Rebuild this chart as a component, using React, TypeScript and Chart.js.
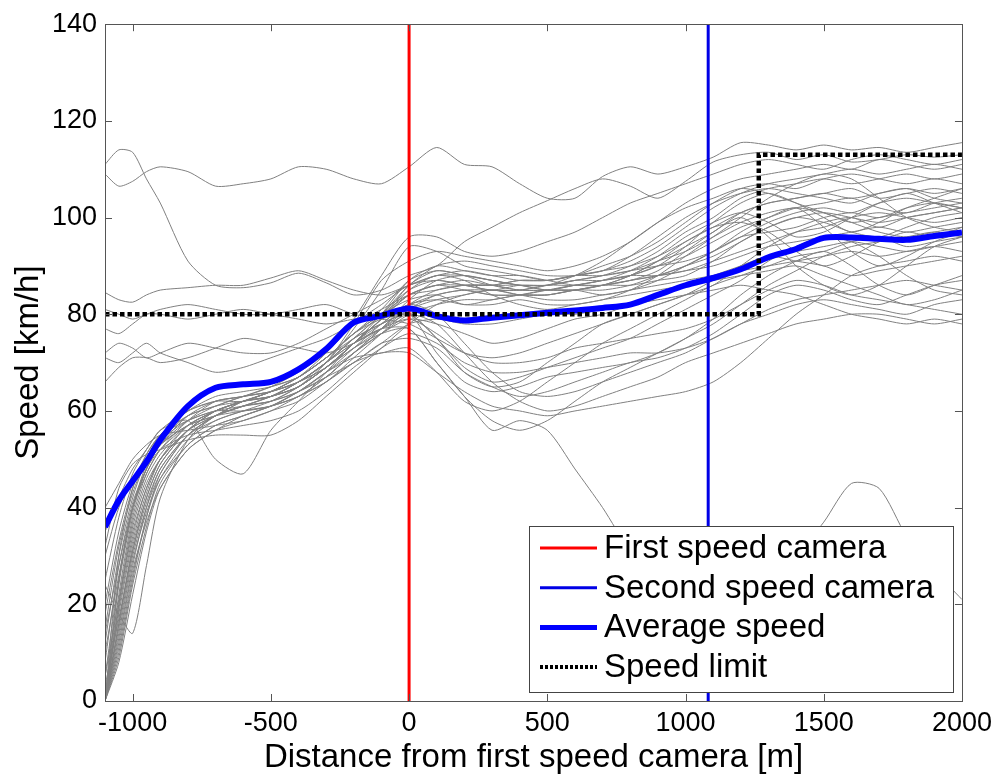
import React, { useEffect, useRef } from "react";
import { Chart, registerables } from "chart.js";

Chart.register(...registerables);

const FONT = '"Liberation Sans", Arial, Helvetica, sans-serif';

// Distance grid [m] shared by all speed profiles
const DIST = [-1100, -1050, -1000, -950, -900, -800, -700, -600, -500, -400, -300, -200, -100, 0, 100, 200, 300, 400, 500, 600, 700, 800, 900, 1000, 1100, 1200, 1300, 1400, 1500, 1600, 1700, 1800, 1900, 2000];

const AVERAGE_SPEED = [36, 41.5, 45.5, 49.5, 54, 61, 64.8, 65.5, 66, 68.6, 72.8, 78.3, 79.7, 81.2, 79.6, 78.7, 79.3, 79.8, 80.3, 80.8, 81.3, 82, 84, 86, 87.5, 89.3, 91.8, 93.5, 95.8, 95.9, 95.6, 95.4, 96.2, 96.9];

const SPEED_LIMIT_X = [-1100, 1265, 1265, 2000];
const SPEED_LIMIT_Y = [80, 80, 113, 113];

const FIRST_CAMERA_X = 0;
const SECOND_CAMERA_X = 1082;

const X_TICKS = [-1000, -500, 0, 500, 1000, 1500, 2000];
const Y_TICKS = [0, 20, 40, 60, 80, 100, 120, 140];

const LEGEND_LABELS = ["First speed camera", "Second speed camera", "Average speed", "Speed limit"];

// Individual vehicle speed profiles [km/h] on DIST
const V01 = [109, 106.5, 107.5, 109.5, 110.5, 109.5, 106.5, 107, 108, 110.5, 110, 108, 107, 110.5, 114.5, 111, 110.5, 107, 104, 104, 108.5, 110.5, 109, 110.5, 112.5, 115.5, 115, 114, 115, 114, 114.5, 113.5, 114.5, 115.5];
const V02 = [111, 114, 113.5, 108, 103, 91, 86, 85.5, 86.5, 88.5, 86.5, 84, 85, 88, 90, 95, 98, 101, 103.5, 106, 108, 106.5, 104, 107.5, 111.5, 113, 113.5, 112, 113, 111.5, 112, 113, 112.5, 113];
const V03 = [0, 22, 38, 47, 52, 58, 62, 63, 65, 68, 72, 78, 82, 86, 87, 86, 85, 86, 86, 87, 88, 90, 93, 97, 100, 104, 106, 107, 108, 107, 108, 109, 108, 109];
const V04 = [0, 18, 33, 43, 50, 57, 60, 62, 64, 67, 71, 76, 80, 83, 84, 82, 83, 84, 85, 85, 86, 88, 91, 94, 97, 101, 103, 104, 105, 106, 104, 105, 106, 105];
const V05 = [5, 25, 40, 49, 54, 59, 61, 63, 64, 66, 70, 75, 78, 80, 75, 68, 65, 66, 70, 74, 78, 80, 82, 84, 86, 90, 94, 97, 99, 100, 98, 100, 101, 102];
const V06 = [0, 15, 30, 40, 47, 55, 59, 61, 63, 66, 70, 77, 85, 94, 93, 90, 89, 88, 87, 88, 89, 92, 96, 100, 103, 105, 106, 105, 104, 103, 105, 106, 104, 103];
const V07 = [12, 30, 42, 50, 55, 60, 62, 62, 64, 66, 69, 74, 79, 84, 86, 87, 86, 86, 85, 86, 87, 88, 90, 92, 95, 98, 100, 102, 103, 104, 102, 101, 103, 104];
const V08 = [20, 35, 45, 51, 55, 58, 60, 60, 61, 64, 68, 71, 72, 73, 68, 62, 60, 62, 66, 70, 74, 77, 80, 83, 86, 88, 90, 92, 93, 95, 96, 94, 95, 96];
const V09 = [0, 20, 36, 45, 50, 56, 59, 62, 63, 65, 69, 73, 77, 81, 83, 84, 85, 84, 84, 85, 86, 87, 88, 89, 90, 92, 94, 95, 96, 97, 98, 97, 98, 99];
const V10 = [24, 18, 14, 28, 42, 54, 59, 61, 62, 64, 67, 72, 76, 79, 78, 76, 74, 75, 77, 79, 80, 82, 84, 86, 88, 90, 92, 91, 90, 88, 89, 90, 91, 92];
const V11 = [35, 42, 48, 52, 56, 58, 50, 47, 56, 62, 68, 74, 78, 82, 80, 74, 68, 64, 63, 64, 66, 68, 70, 72, 75, 78, 80, 82, 83, 82, 81, 80, 82, 83];
const V12 = [84.5, 83, 82.5, 84, 85, 85.5, 86, 86, 87.5, 89, 87, 85, 84, 86, 88, 89, 88, 87, 87, 88, 89, 90, 92, 95, 98, 101, 103, 104, 105, 104, 105, 106, 105, 106];
const V13 = [81, 80, 79, 80, 81, 82, 81, 80, 80, 81, 82, 80, 79, 78, 75, 72, 71, 72, 74, 76, 78, 80, 82, 84, 87, 90, 92, 93, 94, 95, 94, 93, 94, 95];
const V14 = [77, 76, 78, 80, 80, 79, 80, 81, 80, 79, 78, 79, 80, 82, 84, 85, 84, 84, 85, 86, 86, 87, 88, 90, 92, 95, 98, 100, 101, 100, 99, 100, 101, 102];
const V15 = [72, 74, 73, 71, 72, 74, 73, 72, 72, 74, 77, 80, 83, 86, 88, 88, 87, 86, 86, 87, 88, 89, 90, 91, 93, 96, 99, 101, 102, 101, 103, 104, 103, 102];
const V16 = [66, 69, 71, 71, 70, 71, 73, 75, 74, 73, 72, 74, 77, 80, 78, 72, 66, 62, 60, 61, 63, 65, 67, 70, 72, 74, 76, 78, 79, 80, 80, 79, 78, 79];
const V17 = [0, 10, 25, 38, 46, 54, 58, 60, 62, 65, 70, 78, 87, 91, 93, 92, 91, 90, 89, 90, 92, 95, 99, 103, 106, 108, 109, 110, 111, 110, 112, 111, 110, 111];
const V18 = [3, 17, 31, 41, 48, 55, 58, 60, 61, 63, 67, 72, 77, 82, 85, 86, 86, 85, 85, 85, 86, 86, 87, 88, 91, 95, 98, 100, 99, 97, 96, 98, 100, 101];
const V19 = [0, 8, 22, 35, 44, 52, 56, 58, 60, 62, 66, 70, 72, 72, 68, 64, 61, 60, 59, 60, 61, 62, 63, 64, 66, 70, 75, 80, 84, 88, 90, 91, 92, 91];
const V20 = [8, 28, 41, 48, 53, 57, 59, 61, 62, 64, 68, 73, 78, 82, 83, 82, 82, 83, 82, 82, 83, 84, 85, 86, 87, 88, 89, 90, 88, 86, 84, 82, 83, 85];
const V21 = [15, 32, 43, 50, 55, 59, 61, 62, 63, 66, 70, 74, 77, 79, 76, 72, 70, 70, 71, 73, 74, 75, 76, 77, 79, 82, 85, 87, 86, 84, 83, 82, 81, 80];
const V22 = [0, 14, 29, 39, 46, 53, 57, 59, 61, 63, 67, 72, 77, 83, 87, 88, 87, 86, 86, 87, 87, 88, 90, 94, 99, 103, 105, 103, 100, 97, 99, 102, 104, 106];
const V23 = [25, 38, 47, 52, 56, 60, 62, 63, 64, 66, 69, 73, 76, 77, 70, 63, 58, 56, 58, 62, 66, 69, 72, 75, 78, 82, 86, 89, 92, 94, 95, 96, 97, 96];
const V24 = [0, 19, 34, 44, 50, 56, 60, 62, 64, 67, 71, 76, 80, 84, 86, 86, 86, 87, 87, 88, 90, 92, 95, 99, 103, 106, 107, 106, 108, 109, 108, 107, 108, 107];
const V25 = [40, 45, 50, 53, 55, 56, 57, 58, 60, 63, 66, 70, 74, 78, 79, 78, 78, 79, 80, 80, 81, 82, 83, 84, 85, 86, 85, 84, 82, 80, 79, 78, 79, 78];
const V26 = [0, 12, 27, 37, 44, 52, 56, 59, 61, 64, 68, 72, 76, 80, 82, 83, 83, 84, 84, 85, 86, 88, 91, 95, 98, 99, 97, 93, 90, 92, 95, 97, 96, 98];
const V27 = [18, 33, 44, 50, 54, 58, 60, 61, 62, 65, 69, 74, 79, 86, 89, 88, 87, 86, 85, 85, 84, 85, 86, 87, 88, 89, 90, 91, 92, 93, 92, 93, 94, 93];
const V28 = [0, 24, 39, 48, 53, 58, 61, 63, 65, 67, 71, 75, 78, 80, 72, 66, 64, 65, 67, 68, 69, 70, 72, 75, 79, 84, 88, 91, 93, 90, 86, 84, 86, 88];
const V29 = [30, 40, 46, 50, 53, 57, 59, 60, 61, 63, 66, 71, 76, 81, 84, 85, 85, 85, 86, 86, 87, 88, 88, 89, 91, 93, 95, 97, 98, 100, 101, 100, 99, 100];
const V30 = [0, 16, 32, 42, 49, 56, 60, 62, 63, 65, 69, 74, 79, 84, 86, 85, 84, 84, 84, 85, 85, 86, 88, 90, 93, 97, 100, 102, 98, 93, 90, 92, 95, 97];
const V31 = [10, 26, 40, 48, 52, 55, 56, 57, 58, 60, 64, 69, 73, 76, 74, 70, 68, 68, 69, 70, 71, 72, 72, 73, 75, 78, 81, 83, 84, 85, 86, 87, 86, 85];
const V32 = [0, 20, 35, 44, 50, 56, 59, 61, 63, 66, 70, 75, 80, 86, 90, 91, 90, 89, 88, 88, 89, 91, 94, 98, 102, 105, 107, 108, 109, 110, 109, 110, 111, 110];
const V33 = [32, 44, 49, 51, 52, 54, 55, 55, 55, 58, 63, 68, 73, 78, 82, 84, 85, 84, 83, 83, 84, 85, 87, 90, 93, 96, 97, 98, 100, 101, 100, 102, 103, 102];
const V34 = [0, 9, 24, 36, 45, 53, 57, 59, 61, 64, 67, 70, 74, 75, 73, 68, 65, 63, 64, 66, 68, 70, 71, 73, 76, 80, 84, 86, 85, 83, 82, 84, 86, 87];
const V35 = [0, 25, 40, 48, 53, 59, 62, 63, 64, 66, 70, 74, 77, 77, 70, 63, 56, 58, 56, 48, 40, 31, 25, 20, 17, 20, 25, 30, 37, 45, 44, 34, 27, 21];
const V36 = [0, 13, 28, 40, 48, 55, 59, 61, 63, 65, 69, 74, 80, 87, 90, 89, 88, 88, 87, 86, 86, 87, 89, 93, 97, 100, 96, 90, 86, 84, 86, 90, 94, 96];
const V37 = [5, 21, 37, 46, 51, 57, 60, 62, 63, 65, 69, 74, 79, 85, 88, 87, 84, 82, 81, 82, 83, 85, 88, 92, 96, 100, 104, 107, 109, 108, 104, 100, 98, 97];
const V38 = [0, 11, 26, 38, 47, 55, 59, 62, 64, 67, 71, 76, 81, 87, 89, 88, 86, 85, 85, 86, 87, 89, 92, 96, 99, 101, 99, 96, 97, 100, 103, 105, 103, 101];
const V39 = [0, 30, 44, 51, 55, 60, 63, 64, 65, 67, 71, 76, 79, 80, 75, 69, 66, 67, 69, 71, 73, 75, 78, 81, 84, 87, 91, 94, 96, 95, 92, 88, 85, 84];
const V40 = [71, 70, 72, 74, 72, 70, 68, 69, 71, 73, 75, 78, 81, 84, 85, 86, 86, 87, 87, 88, 88, 89, 91, 93, 96, 99, 101, 102, 101, 99, 100, 101, 102, 103];
const V41 = [0, 16, 31, 42, 49, 56, 60, 62, 64, 67, 72, 79, 88, 96, 96, 93, 92, 93, 95, 97, 100, 103, 105, 107, 109, 111, 112, 111, 110, 112, 113, 112, 111, 112];
const V42 = [14, 28, 40, 47, 52, 57, 60, 62, 63, 66, 70, 75, 80, 85, 87, 86, 85, 85, 86, 88, 91, 95, 99, 102, 104, 106, 105, 103, 101, 99, 97, 96, 97, 98];

const VEHICLES = [V01, V02, V03, V04, V05, V06, V07, V08, V09, V10, V11, V12, V13, V14, V15, V16, V17, V18, V19, V20, V21, V22, V23, V24, V25, V26, V27, V28, V29, V30, V31, V32, V33, V34, V35, V36, V37, V38, V39, V40, V41, V42];

const framePlugin = {
  id: "frameTicks",
  afterDatasetsDraw(chart: any) {
    const { ctx, chartArea: ca, scales } = chart;
    ctx.save();
    ctx.strokeStyle = "#555";
    ctx.lineWidth = 1;
    ctx.strokeRect(Math.round(ca.left) + 0.5, Math.round(ca.top) + 0.5, Math.round(ca.right - ca.left), Math.round(ca.bottom - ca.top));
    const len = 7;
    ctx.beginPath();
    X_TICKS.forEach((v) => {
      const x = Math.round(scales.x.getPixelForValue(v)) + 0.5;
      ctx.moveTo(x, ca.bottom);
      ctx.lineTo(x, ca.bottom - len);
      ctx.moveTo(x, ca.top);
      ctx.lineTo(x, ca.top + len);
    });
    Y_TICKS.forEach((v) => {
      const y = Math.round(scales.y.getPixelForValue(v)) + 0.5;
      ctx.moveTo(ca.left, y);
      ctx.lineTo(ca.left + len, y);
      ctx.moveTo(ca.right, y);
      ctx.lineTo(ca.right - len, y);
    });
    ctx.stroke();
    ctx.restore();
  },
  afterDraw(chart: any) {
    const { ctx, chartArea: ca } = chart;
    const w = 424;
    const h = 166;
    const left = Math.round(ca.right - 9 - w);
    const top = Math.round(ca.bottom - 9 - h);
    ctx.save();
    ctx.fillStyle = "#fff";
    ctx.fillRect(left, top, w, h);
    ctx.strokeStyle = "#444";
    ctx.lineWidth = 1;
    ctx.strokeRect(left + 0.5, top + 0.5, w, h);
    LEGEND_LABELS.forEach((label, i) => {
      const ds = chart.data.datasets.find((d: any) => d.label === label);
      const y = top + 22 + i * 39.7;
      ctx.beginPath();
      ctx.strokeStyle = ds.borderColor;
      ctx.lineWidth = label === "Average speed" ? 5 : label === "Speed limit" ? 4 : 3;
      ctx.setLineDash(label === "Speed limit" ? [3, 2] : []);
      ctx.moveTo(left + 11, y);
      ctx.lineTo(left + 68, y);
      ctx.stroke();
      ctx.setLineDash([]);
      ctx.fillStyle = "#000";
      ctx.font = `33px ${FONT}`;
      ctx.textBaseline = "middle";
      ctx.textAlign = "left";
      ctx.fillText(label, left + 75, y + 1);
    });
    ctx.restore();
  },
};

export default function App() {
  const ref = useRef<HTMLCanvasElement>(null);

  useEffect(() => {
    const canvas = ref.current;
    if (!canvas) return;

    const vehicleDatasets = VEHICLES.map((v, k) => ({
      label: `Vehicle ${k + 1}`,
      data: DIST.map((d, i) => ({ x: d, y: v[i] })),
      borderColor: "rgb(128,128,128)",
      borderWidth: 1,
      pointRadius: 0,
      tension: 0.25,
      fill: false,
      order: 10,
    }));

    const chart = new Chart(canvas, {
      type: "line",
      data: {
        datasets: [
          {
            label: "Speed limit",
            data: SPEED_LIMIT_X.map((x, i) => ({ x, y: SPEED_LIMIT_Y[i] })),
            borderColor: "#000000",
            borderWidth: 4.5,
            borderDash: [4.5, 3],
            pointRadius: 0,
            tension: 0,
            fill: false,
            order: 0,
          },
          {
            label: "Average speed",
            data: DIST.map((d, i) => ({ x: d, y: AVERAGE_SPEED[i] })),
            borderColor: "#0000ff",
            borderWidth: 6,
            pointRadius: 0,
            tension: 0.3,
            fill: false,
            order: 1,
          },
          {
            label: "Second speed camera",
            data: [
              { x: SECOND_CAMERA_X, y: 0 },
              { x: SECOND_CAMERA_X, y: 140 },
            ],
            borderColor: "#0000e6",
            borderWidth: 3,
            pointRadius: 0,
            fill: false,
            clip: 0,
            order: 2,
          },
          {
            label: "First speed camera",
            data: [
              { x: FIRST_CAMERA_X, y: 0 },
              { x: FIRST_CAMERA_X, y: 140 },
            ],
            borderColor: "#ff0000",
            borderWidth: 3,
            pointRadius: 0,
            fill: false,
            clip: 0,
            order: 3,
          },
          ...vehicleDatasets,
        ],
      },
      options: {
        responsive: false,
        animation: false,
        devicePixelRatio: 1,
        layout: { padding: { top: 22, right: 34, bottom: 0, left: 0 } },
        plugins: {
          legend: { display: false },
          tooltip: { enabled: false },
        },
        elements: { point: { radius: 0 }, line: { borderCapStyle: "butt" } },
        scales: {
          x: {
            type: "linear",
            min: -1100,
            max: 2000,
            afterBuildTicks: (s: any) => {
              s.ticks = X_TICKS.map((v) => ({ value: v }));
            },
            afterFit: (s: any) => {
              s.height = 73;
            },
            grid: { display: false, drawTicks: false },
            border: { display: false },
            ticks: {
              color: "#000",
              font: { family: FONT, size: 27 },
              padding: 6,
              maxRotation: 0,
              autoSkip: false,
              callback: (v: any) => String(v),
            },
            title: {
              display: true,
              text: "Distance from first speed camera [m]",
              color: "#000",
              font: { family: FONT, size: 33, lineHeight: 1 },
              padding: { top: 0, bottom: 0 },
            },
          },
          y: {
            type: "linear",
            min: 0,
            max: 140,
            afterBuildTicks: (s: any) => {
              s.ticks = Y_TICKS.map((v) => ({ value: v }));
            },
            afterFit: (s: any) => {
              s.width = 105;
            },
            grid: { display: false, drawTicks: false },
            border: { display: false },
            ticks: {
              color: "#000",
              font: { family: FONT, size: 27 },
              padding: 8,
              callback: (v: any) => String(v),
            },
            title: {
              display: true,
              text: "Speed [km/h]",
              color: "#000",
              font: { family: FONT, size: 33, lineHeight: 1 },
              padding: { top: 12, bottom: 0 },
            },
          },
        },
      },
      plugins: [framePlugin],
    } as any);

    return () => chart.destroy();
  }, []);

  return (
    <div style={{ position: "absolute", left: 0, top: 0, width: 998, height: 774, background: "#fff" }}>
      <canvas ref={ref} width={998} height={774} style={{ display: "block" }} />
    </div>
  );
}
